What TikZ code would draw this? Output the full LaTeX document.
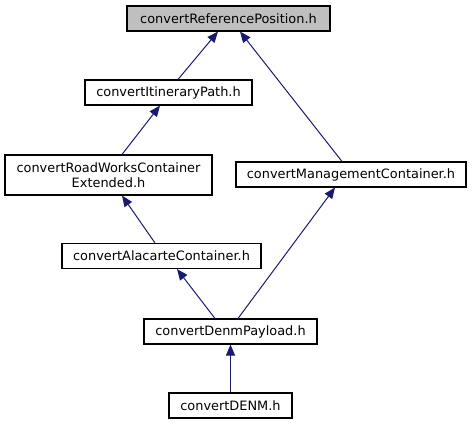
\documentclass[tikz,border=0pt]{standalone}
\usepackage{fontspec}
\setmainfont{DejaVu Sans}
\usetikzlibrary{arrows.meta}
\definecolor{edgeblue}{HTML}{191970}
\definecolor{hlgray}{HTML}{BFBFBF}
\begin{document}
\begin{tikzpicture}[x=1pt,y=-1pt,
  box/.style={draw=black,line width=1.1pt,inner sep=0pt,minimum height=25pt,align=center,font=\fontsize{12.9}{15}\selectfont},
  dep/.style={draw=edgeblue,line width=1pt,-{Triangle[length=11pt,width=9pt]}}]
\useasboundingbox (0,0) rectangle (472,425);
\node[box,fill=hlgray,minimum width=203pt] (ref) at (228.5,18.5) {convertReferencePosition.h};
\node[box,minimum width=167pt] (itin) at (168.5,92.5) {convertItineraryPath.h};
\node[box,minimum width=207pt,minimum height=40pt] (road) at (108.5,175) {convertRoadWorksContainer\\Extended.h};
\node[box,minimum width=230pt] (mgmt) at (351,174.5) {convertManagementContainer.h};
\node[box,minimum width=199pt] (ala) at (161.5,256) {convertAlacarteContainer.h};
\node[box,minimum width=173pt] (pay) at (230.5,331.5) {convertDenmPayload.h};
\node[box,minimum width=123pt] (denm) at (230.5,405.5) {convertDENM.h};
\draw[dep] ([xshift=9.5pt]itin.north) -- ([xshift=-10.5pt]ref.south);
\draw[dep] ([xshift=-9pt]mgmt.north) -- ([xshift=11.5pt]ref.south);
\draw[dep] ([xshift=13.5pt]road.north) -- ([xshift=-8.5pt]itin.south);
\draw[dep] ([xshift=-6.5pt]ala.north) -- ([xshift=13.5pt]road.south);
\draw[dep] ([xshift=-15.5pt]pay.north) -- ([xshift=15.5pt]ala.south);
\draw[dep] ([xshift=7.5pt]pay.north) -- ([xshift=-16pt]mgmt.south);
\draw[dep] (denm.north) -- (pay.south);
\end{tikzpicture}
\end{document}
